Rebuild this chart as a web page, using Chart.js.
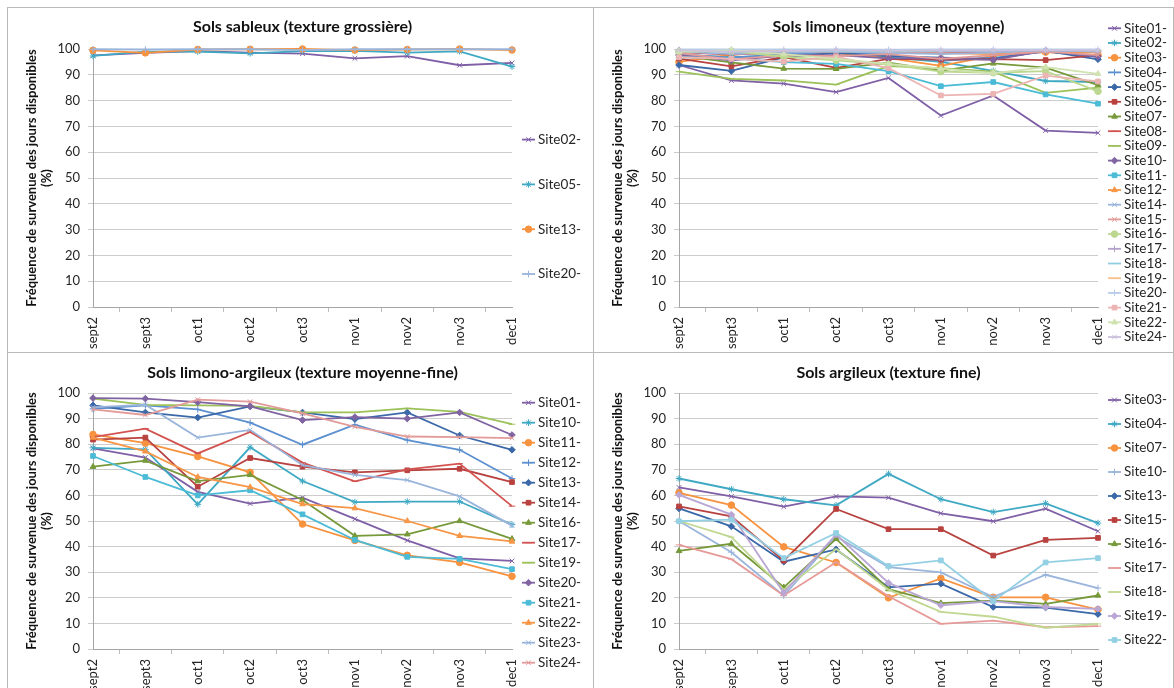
<!DOCTYPE html>
<html>
<head>
<meta charset="utf-8">
<title>Fréquence de survenue des jours disponibles</title>
<script src="https://cdn.jsdelivr.net/npm/chart.js@4.4.1/dist/chart.umd.min.js"></script>
<style>
  html, body { margin: 0; padding: 0; background: #fff; }
  body { width: 1174px; height: 688px; position: relative; overflow: hidden; }
  .panel { position: absolute; box-shadow: inset 0 0 0 1px #b9b9b9; }
  .panel canvas { position: absolute; left: 0; top: 0; }
</style>
</head>
<body>
<div class="panel" style="left:7px;top:7px;width:587px;height:346px"><canvas id="sableux" width="587" height="346"></canvas></div>
<div class="panel" style="left:593px;top:7px;width:581px;height:346px"><canvas id="limoneux" width="581" height="346"></canvas></div>
<div class="panel" style="left:7px;top:352px;width:587px;height:345px"><canvas id="limonoArgileux" width="587" height="345"></canvas></div>
<div class="panel" style="left:593px;top:352px;width:581px;height:345px"><canvas id="argileux" width="581" height="345"></canvas></div>

<script>
const months = ['sept2', 'sept3', 'oct1', 'oct2', 'oct3', 'nov1', 'nov2', 'nov3', 'dec1'];

// Sols sableux
const sableuxSites = ['Site02-', 'Site05-', 'Site13-', 'Site20-'];
const sableuxValues = [
  [97.5, 98.5, 99.2, 98.6, 98.2, 96.4, 97.2, 93.7, 94.6],
  [97.3, 99.0, 99.0, 98.3, 99.2, 99.3, 98.6, 99.1, 93.2],
  [99.5, 98.5, 99.8, 99.9, 100, 99.6, 99.8, 100, 99.6],
  [99.9, 99.8, 99.9, 99.9, 99.6, 99.9, 99.9, 99.9, 99.9]
];

// Sols limoneux
const limoneuxSites = ['Site01-', 'Site02-', 'Site03-', 'Site04-', 'Site05-', 'Site06-', 'Site07-', 'Site08-',
  'Site09-', 'Site10-', 'Site11-', 'Site12-', 'Site14-', 'Site15-', 'Site16-', 'Site17-', 'Site18-', 'Site19-',
  'Site20-', 'Site21-', 'Site22-', 'Site24-'];
const limoneuxValues = [
  [93.8, 87.8, 86.6, 83.3, 88.8, 74.2, 82.0, 68.4, 67.5],
  [97.7, 96.8, 97.4, 98.7, 96.8, 95.0, 91.5, 87.6, 87.2],
  [95.0, 97.8, 98.6, 98.4, 96.5, 93.5, 97.4, 98.8, 97.6],
  [98.0, 96.6, 98.0, 98.8, 97.8, 95.4, 96.6, 99.0, 97.0],
  [93.8, 91.5, 96.8, 98.5, 97.2, 96.6, 96.2, 99.3, 96.0],
  [96.3, 93.3, 96.9, 92.7, 96.2, 95.9, 96.1, 95.7, 97.6],
  [97.4, 94.8, 92.4, 92.3, 94.7, 91.6, 94.4, 92.8, 86.0],
  [98.8, 97.8, 98.8, 99.0, 98.8, 98.6, 99.0, 99.5, 99.0],
  [91.2, 88.4, 87.8, 86.2, 93.4, 92.6, 91.2, 83.0, 85.0],
  [97.6, 95.6, 97.4, 97.6, 96.4, 96.5, 95.8, 99.4, 97.0],
  [96.8, 96.4, 94.9, 94.2, 91.4, 85.6, 87.2, 82.4, 78.8],
  [99.4, 99.3, 99.0, 99.1, 98.6, 98.4, 98.0, 99.0, 98.6],
  [99.0, 98.0, 98.6, 99.0, 98.5, 98.0, 98.6, 99.4, 99.0],
  [98.4, 96.0, 97.6, 97.2, 98.0, 96.2, 97.6, 99.0, 97.6],
  [99.0, 99.2, 97.0, 95.6, 94.0, 91.2, 90.8, 91.4, 83.6],
  [99.5, 99.0, 99.1, 99.4, 99.0, 99.0, 99.2, 99.5, 99.1],
  [99.2, 99.0, 99.2, 99.2, 99.0, 99.4, 99.4, 99.5, 99.4],
  [99.6, 99.6, 99.5, 99.6, 99.5, 99.6, 99.6, 99.6, 99.6],
  [99.8, 99.8, 99.8, 99.8, 99.7, 99.8, 99.8, 99.8, 99.8],
  [96.8, 96.2, 95.1, 97.0, 92.6, 82.0, 82.6, 89.7, 87.4],
  [99.0, 99.5, 98.0, 96.2, 94.2, 92.4, 90.6, 93.0, 90.4],
  [99.5, 99.0, 99.2, 99.5, 99.4, 99.5, 99.5, 99.6, 99.5]
];

// Sols limono-argileux
const limonoArgileuxSites = ['Site01-', 'Site10-', 'Site11-', 'Site12-', 'Site13-', 'Site14-', 'Site16-',
  'Site17-', 'Site19-', 'Site20-', 'Site21-', 'Site22-', 'Site23-', 'Site24-'];
const limonoArgileuxValues = [
  [78.4, 74.8, 61.4, 56.8, 59.1, 50.8, 42.4, 35.4, 34.4],
  [78.6, 78.0, 56.5, 78.8, 65.6, 57.4, 57.6, 57.6, 48.6],
  [83.8, 80.4, 75.2, 69.0, 48.8, 42.4, 36.6, 33.8, 28.4],
  [93.8, 95.2, 93.6, 88.4, 79.8, 87.6, 81.6, 77.8, 66.6],
  [95.2, 92.4, 90.4, 94.8, 92.4, 89.8, 92.4, 83.4, 77.8],
  [81.8, 82.6, 63.4, 74.6, 71.2, 69.0, 69.8, 70.4, 65.2],
  [71.2, 73.6, 65.6, 68.0, 58.2, 44.2, 44.8, 50.0, 43.0],
  [82.8, 86.1, 76.4, 84.8, 72.8, 65.5, 70.2, 72.4, 55.8],
  [97.8, 95.4, 95.2, 95.0, 92.4, 92.4, 94.0, 92.6, 87.8],
  [98.0, 97.8, 96.4, 94.8, 89.4, 90.6, 90.0, 92.4, 83.6],
  [75.4, 67.2, 60.0, 62.0, 52.6, 42.6, 36.0, 35.2, 31.2],
  [82.6, 77.2, 67.2, 63.2, 56.6, 55.0, 50.0, 44.2, 42.0],
  [94.4, 95.4, 82.6, 85.6, 71.8, 68.0, 66.0, 59.6, 48.2],
  [93.6, 91.4, 97.4, 96.6, 92.0, 86.8, 83.0, 82.8, 82.4]
];

// Sols argileux
const argileuxSites = ['Site03-', 'Site04-', 'Site07-', 'Site10-', 'Site13-', 'Site15-', 'Site16-', 'Site17-',
  'Site18-', 'Site19-', 'Site22-'];
const argileuxValues = [
  [63.1, 59.6, 55.6, 59.6, 59.1, 53.0, 49.9, 54.8, 46.0],
  [66.6, 62.4, 58.5, 56.1, 68.4, 58.5, 53.5, 56.9, 49.2],
  [61.0, 56.2, 39.9, 33.8, 20.0, 27.6, 20.2, 20.2, 15.4],
  [50.0, 37.8, 20.8, 44.0, 32.0, 29.9, 20.3, 29.0, 23.8],
  [54.9, 47.9, 34.1, 38.9, 24.1, 25.5, 16.4, 16.2, 13.6],
  [55.7, 51.8, 34.5, 54.7, 46.8, 46.8, 36.5, 42.6, 43.4],
  [38.3, 41.1, 24.1, 43.0, 23.4, 17.9, 18.9, 17.6, 20.9],
  [40.7, 35.1, 20.9, 33.9, 20.6, 9.8, 11.1, 8.5, 8.9],
  [50.0, 43.7, 23.2, 39.0, 23.2, 14.5, 12.6, 8.3, 9.8],
  [60.2, 52.5, 22.0, 44.7, 25.8, 17.1, 18.7, 16.4, 15.7],
  [49.9, 50.5, 35.5, 45.3, 32.4, 34.6, 18.7, 33.8, 35.5]
];

// Excel style series order: marker shape and colour by position in the series list
const pointStyles = ['crossRot', 'star', 'circle', 'cross', 'rectRot', 'rect', 'triangle', 'line', 'line',
  'rectRot', 'rect', 'triangle', 'crossRot', 'crossRot', 'circle', 'cross', 'line', 'line', 'cross', 'rect',
  'triangle', 'crossRot'];
const baseColors = ['#7f5fa6', '#3fa9c4', '#f7923f', '#5b8fd0', '#3a68a8', '#b8423f', '#77993a', '#d2534f',
  '#9bc158', '#8064a2', '#4bbbd6', '#f79646', '#9ab5dc', '#e29b98', '#bcd88f', '#b4a2cc', '#90cde0', '#fac08f',
  '#b8cde8', '#ecb4b3', '#cfe2b0', '#cbbfdc'];
const sableuxColors = baseColors.slice();
sableuxColors[3] = '#9ab5dc';
const argileuxColors = baseColors.slice();
argileuxColors[3] = '#9ab5dc';
argileuxColors[7] = '#e69a98';
argileuxColors[8] = '#c0d892';
argileuxColors[9] = '#b9a6d4';
argileuxColors[10] = '#94d0e3';

Chart.defaults.font.family = 'Lato, "Liberation Sans", sans-serif';

function makeDatasets(sites, values, colors) {
  return sites.map((site, i) => ({
    label: site,
    data: values[i],
    borderColor: colors[i],
    backgroundColor: colors[i],
    pointBackgroundColor: colors[i],
    pointBorderColor: colors[i],
    pointStyle: pointStyles[i],
    pointRadius: 3.3,
    pointBorderWidth: 1,
    borderWidth: 1.8,
    tension: 0,
    clip: false,
    order: -i // later series drawn on top, like Excel
  }));
}

// legend at the right: short line with the marker in the middle
const sideLegend = {
  id: 'sideLegend',
  afterDraw(chart, args, opts) {
    const ctx = chart.ctx;
    ctx.save();
    ctx.font = opts.font;
    ctx.textBaseline = 'middle';
    chart.data.datasets.forEach((ds, i) => {
      const y = opts.top + i * opts.step;
      ctx.strokeStyle = ds.borderColor;
      ctx.fillStyle = ds.borderColor;
      ctx.lineWidth = ds.borderWidth;
      ctx.beginPath();
      ctx.moveTo(opts.left, y);
      ctx.lineTo(opts.left + 13, y);
      ctx.stroke();
      ctx.lineWidth = 1;
      Chart.helpers.drawPoint(ctx, { pointStyle: ds.pointStyle, radius: ds.pointRadius, rotation: 0, borderWidth: 1 },
        opts.left + 6.5, y);
      ctx.fillStyle = '#262626';
      ctx.fillText(ds.label, opts.left + 16, y);
    });
    ctx.restore();
  }
};

function drawPanel(id, title, sites, values, colors, box) {
  new Chart(document.getElementById(id), {
    type: 'line',
    data: { labels: months, datasets: makeDatasets(sites, values, colors) },
    plugins: [sideLegend],
    options: {
      responsive: false,
      animation: false,
      events: [],
      layout: { padding: { left: 0, top: 0, right: box.padRight, bottom: 0 } },
      plugins: {
        legend: { display: false },
        tooltip: { enabled: false },
        title: {
          display: true,
          text: title,
          fullSize: false,
          color: '#111',
          font: { size: 16, weight: 'bold' },
          padding: { top: box.titleTop, bottom: box.titleBottom }
        },
        sideLegend: { left: 515, top: box.legendTop, step: box.legendStep, font: '13.5px Lato' }
      },
      scales: {
        x: {
          afterFit: (s) => { s.height = box.axisHeight; },
          grid: { offset: true, drawOnChartArea: false, tickLength: 5, color: '#bdbdbd' },
          border: { color: '#a6a6a6' },
          ticks: { autoSkip: false, minRotation: 90, maxRotation: 90, padding: 5, color: '#262626', font: { size: 13 } }
        },
        y: {
          min: 0,
          max: 100,
          afterFit: (s) => { s.width = 86; },
          grid: { color: '#cccccc', tickLength: 5 },
          border: { color: '#a6a6a6' },
          ticks: { stepSize: 10, padding: 8, color: '#262626', font: { size: 13 } },
          title: {
            display: true,
            text: ['Fréquence de survenue des jours disponibles', '(%)'],
            color: '#111',
            font: { size: 13, weight: 'bold', lineHeight: 1.15 },
            padding: { top: 17.5, bottom: 0 }
          }
        }
      }
    }
  });
}

drawPanel('sableux', 'Sols sableux (texture grossière)', sableuxSites, sableuxValues, sableuxColors,
  { padRight: 82, titleTop: 10.4, titleBottom: 12.4, axisHeight: 46, legendTop: 132.6, legendStep: 44.8 });
drawPanel('limoneux', 'Sols limoneux (texture moyenne)', limoneuxSites, limoneuxValues, baseColors,
  { padRight: 76, titleTop: 10.4, titleBottom: 12.4, axisHeight: 46, legendTop: 21.3, legendStep: 14.7 });
drawPanel('limonoArgileux', 'Sols limono-argileux (texture moyenne-fine)', limonoArgileuxSites, limonoArgileuxValues,
  baseColors, { padRight: 82, titleTop: 11.4, titleBottom: 10.4, axisHeight: 48, legendTop: 50.7, legendStep: 20 });
drawPanel('argileux', 'Sols argileux (texture fine)', argileuxSites, argileuxValues, argileuxColors,
  { padRight: 76, titleTop: 11.4, titleBottom: 10.4, axisHeight: 48, legendTop: 48, legendStep: 24 });
</script>
</body>
</html>
